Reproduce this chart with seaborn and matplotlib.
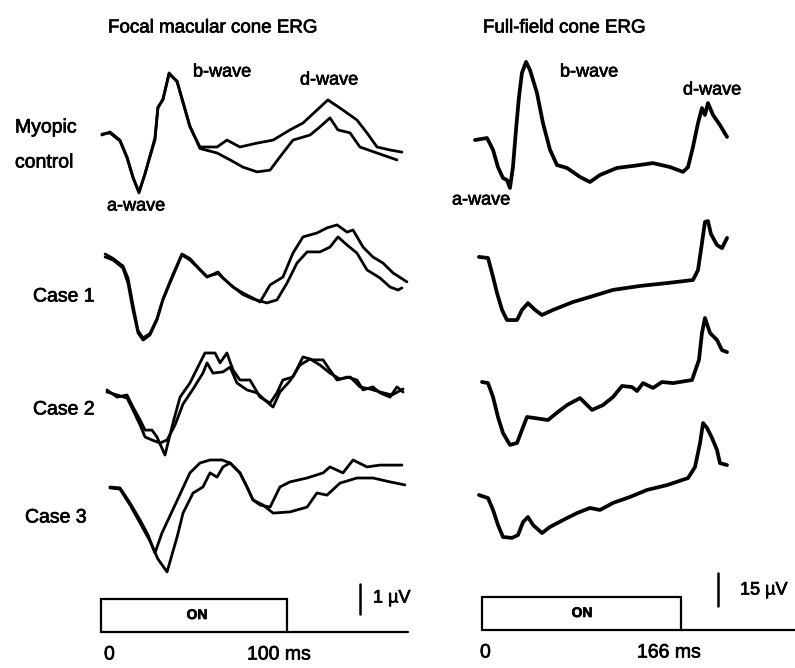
import numpy as np
import pandas as pd
import matplotlib
matplotlib.use("Agg")
import matplotlib.pyplot as plt
import matplotlib.patheffects as pe
import seaborn as sns
from matplotlib.patches import Rectangle

sns.set_theme(style="white")
plt.rcParams['font.family'] = ['Liberation Sans', 'DejaVu Sans']

# ---------------- data (time in ms, amplitude in µV) ----------------
row_labels = ["Myopic\ncontrol", "Case 1", "Case 2", "Case 3"]

# Focal macular cone ERG (two superimposed recordings per row)
foc_ctrl_a_t = [0.5, 4.8, 10.2, 14.0, 17.2, 20.4, 23.7, 26.3, 29.0, 30.6, 33.3, 36.6, 40.9, 44.1, 47.8, 53.2, 62.4, 67.7, 74.7, 83.9, 92.5, 101.6, 108.6, 116.1, 122.0, 130.1, 137.6, 143.0, 148.4, 155.4, 161.8]
foc_ctrl_a_v = [0, 0.1, -0.17, -0.73, -1.4, -1.93, -1.27, -0.73, -0.17, 0.93, 1.17, 2.07, 1.77, 1.07, 0.27, -0.4, -0.4, -0.17, -0.4, -0.27, -0.17, 0.17, 0.4, 0.83, 1.17, 0.83, 0.5, 0.07, -0.4, -0.5, -0.57]
foc_ctrl_b_t = [0.5, 4.8, 10.2, 14.0, 17.2, 20.4, 23.7, 26.3, 29.0, 30.6, 33.3, 36.6, 40.9, 44.1, 47.8, 53.2, 62.4, 69.4, 76.3, 83.9, 90.9, 96.2, 103.2, 112.4, 117.7, 123.1, 127.4, 133.9, 139.2, 148.4, 159.1]
foc_ctrl_b_v = [0.03, 0.07, -0.2, -0.77, -1.43, -1.9, -1.3, -0.7, -0.1, 0.9, 1.2, 2.03, 1.8, 1.1, 0.3, -0.45, -0.6, -0.83, -1.07, -1.23, -1.17, -0.73, -0.17, 0, 0.27, 0.57, 0.17, 0.07, -0.4, -0.6, -0.83]

foc_c1_a_t = [2.2, 6.5, 11.8, 14.5, 17.2, 19.9, 22.6, 26.3, 30.1, 33.3, 38.2, 43.5, 47.8, 52.2, 57.0, 62.9, 65.6, 71.0, 76.3, 81.7, 85.5, 90.9, 97.8, 103.2, 108.6, 116.1, 121.5, 126.9, 132.3, 135.5, 140.9, 146.2, 151.6, 157.0, 164.5]
foc_c1_a_v = [0.1, 0, -0.27, -0.77, -1.67, -2.43, -2.67, -2.5, -2.0, -1.33, -0.6, 0.17, 0, -0.27, -0.57, -0.4, -0.6, -0.9, -1.1, -1.27, -1.4, -0.83, -0.57, 0.23, 0.77, 0.9, 1.07, 1.17, 0.93, 1.0, 0.43, 0.1, -0.1, -0.43, -0.73]
foc_c1_b_t = [2.2, 6.5, 11.8, 14.5, 17.2, 19.9, 22.6, 26.3, 30.1, 33.3, 38.2, 43.5, 47.8, 52.2, 57.0, 62.9, 65.6, 71.0, 76.3, 81.7, 89.2, 94.6, 100.0, 105.4, 110.8, 117.7, 123.1, 127.4, 132.3, 137.6, 143.0, 150.0, 155.4, 159.7, 161.8]
foc_c1_b_v = [0.2, 0.05, -0.2, -0.6, -1.5, -2.35, -2.6, -2.45, -1.95, -1.3, -0.55, 0.2, 0.05, -0.25, -0.55, -0.45, -0.6, -0.9, -1.15, -1.3, -1.43, -1.33, -0.77, -0.1, 0.27, 0.27, 0.43, 0.77, 0.5, 0.23, -0.33, -0.6, -0.9, -1.0, -0.93]

foc_c2_a_t = [3.2, 8.6, 14.0, 17.2, 21.0, 23.7, 27.4, 30.1, 34.4, 38.7, 42.5, 47.8, 53.2, 55.9, 61.3, 64.0, 67.7, 71.0, 74.7, 80.1, 85.5, 90.9, 94.6, 97.8, 103.2, 108.6, 114.0, 119.4, 123.1, 126.9, 132.3, 137.6, 140.9, 146.2, 150.0, 155.4, 159.1, 162.4]
foc_c2_a_v = [0.07, -0.17, -0.1, -0.5, -0.93, -1.27, -1.27, -1.5, -2.1, -1.03, -0.17, 0.3, 0.97, 1.3, 1.3, 0.97, 1.3, 0.73, 0.4, 0.4, -0.17, -0.37, -0.03, 0.4, 0.5, 1.17, 1.07, 1.07, 0.73, 0.4, 0.5, 0.4, 0.07, 0.17, -0.03, -0.17, 0.17, 0]
foc_c2_b_t = [3.2, 8.6, 14.0, 17.2, 21.0, 23.7, 27.4, 31.7, 35.5, 39.8, 44.1, 49.5, 54.8, 57.0, 60.2, 65.6, 69.4, 73.1, 78.5, 83.9, 89.2, 92.5, 96.2, 101.6, 107.0, 112.4, 117.7, 123.1, 128.5, 134.0, 139.2, 144.6, 150.0, 156.5, 162.4]
foc_c2_b_v = [0.0, -0.1, -0.2, -0.6, -1.1, -1.5, -1.6, -1.7, -1.6, -1.1, -0.4, 0.1, 0.63, 0.97, 0.63, 0.67, 0.83, 0.3, 0.07, -0.03, -0.33, -0.5, 0.0, 0.37, 0.9, 1.1, 0.9, 0.63, 0.43, 0.5, 0.17, 0.1, 0.0, -0.1, 0.1]

foc_c3_a_t = [4.8, 10.2, 15.6, 21.0, 25.3, 29.0, 32.8, 39.8, 47.8, 53.2, 58.6, 65.1, 69.4, 74.7, 78.5, 81.7, 85.5, 90.9, 96.2, 101.6, 110.8, 119.4, 123.1, 130.1, 135.5, 143.0, 150.0, 161.8]
foc_c3_a_v = [0, -0.03, -0.53, -1.1, -1.6, -2.2, -1.53, -0.6, 0.47, 0.8, 0.9, 0.9, 0.8, 0.47, 0, -0.43, -0.6, -0.67, 0, 0.17, 0.3, 0.47, 0.67, 0.47, 0.9, 0.67, 0.73, 0.73]
foc_c3_b_t = [4.8, 10.2, 15.6, 21.0, 26.3, 30.6, 35.5, 40.9, 44.1, 49.5, 54.8, 58.6, 62.4, 65.6, 69.4, 74.7, 78.5, 81.7, 87.1, 92.5, 101.6, 110.8, 116.1, 121.5, 128.5, 137.6, 146.2, 155.4, 163.4]
foc_c3_b_v = [-0.03, -0.07, -0.6, -1.2, -1.8, -2.4, -2.83, -1.67, -0.87, -0.2, 0, 0.47, 0.33, 0.67, 0.8, 0.47, 0, -0.43, -0.6, -0.87, -0.83, -0.67, -0.2, -0.27, 0.13, 0.3, 0.3, 0.17, 0.07]

# Full-field cone ERG (one trace per row)
ff_ctrl_t = [-5.8, 4.2, 9.2, 13.3, 17.5, 20.8, 23.3, 25.8, 28.3, 30.8, 33.3, 36.7, 40.0, 45.8, 50.8, 56.7, 62.5, 70.8, 81.7, 90.0, 98.3, 112.5, 125.8, 142.5, 156.7, 167.5, 171.7, 175.8, 180.0, 183.3, 185.8, 188.3, 192.5, 198.3, 204.2]
ff_ctrl_v = [0, 0.9, -4.5, -12.3, -17.3, -18.2, -21.8, -12.3, 4.5, 19.5, 30.5, 35.5, 31.8, 21.4, 7.7, -4.5, -11.4, -12.7, -16.8, -19.1, -15.9, -12.7, -11.8, -10.5, -12.3, -14.5, -12.3, -3.2, 7.7, 14.5, 11.4, 16.8, 11.4, 6.8, 1.4]
ff_c1_t = [-2.5, 5.0, 9.2, 12.5, 16.7, 20.8, 29.2, 33.3, 38.3, 44.2, 50.0, 59.2, 75.8, 90.0, 109.2, 131.7, 154.2, 175.8, 180.0, 183.3, 185.8, 188.3, 190.8, 195.8, 200.0, 204.2]
ff_c1_v = [0.5, 0, -8.6, -15.9, -23.6, -28.2, -28.2, -23.6, -20.5, -23.6, -25.9, -23.6, -20.0, -17.7, -14.5, -12.7, -11.4, -10.0, -5.5, 6.8, 16.4, 16.8, 10.9, 5.9, 4.5, 9.1]
ff_c2_t = [0, 5.0, 9.2, 13.3, 17.5, 23.3, 29.2, 33.3, 37.5, 44.2, 55.0, 63.3, 70.8, 81.7, 91.7, 100.8, 109.2, 116.7, 125.0, 129.2, 134.2, 142.5, 150.0, 159.2, 175.0, 180.8, 183.3, 185.8, 190.0, 195.8, 200.0, 204.2]
ff_c2_v = [0, -0.5, -6.8, -15.9, -23.2, -28.6, -27.7, -21.8, -15.9, -16.4, -17.3, -13.6, -10.5, -7.3, -12.7, -10.5, -6.8, -1.8, -2.3, -4.1, -0.5, -2.7, 0, -0.5, 0.9, 10.0, 22.3, 29.1, 22.3, 19.1, 14.5, 13.6]
ff_c3_t = [-2.5, 5.0, 9.2, 13.3, 17.5, 25.0, 30.0, 34.2, 38.3, 42.5, 50.0, 56.7, 67.5, 79.2, 90.0, 98.3, 109.2, 123.3, 137.5, 154.2, 171.7, 177.5, 181.7, 184.2, 187.5, 191.7, 195.8, 198.3, 204.2]
ff_c3_v = [0, -1.4, -6.8, -13.6, -19.1, -19.5, -18.2, -12.3, -10.0, -13.6, -17.3, -14.5, -11.4, -8.2, -5.9, -6.8, -3.6, -0.9, 2.3, 4.5, 7.7, 12.7, 23.6, 32.7, 30.5, 25.9, 20.5, 14.5, 13.6]

focal_on_ms = 100
full_on_ms = 166
focal_scale_uv = 1
full_scale_uv = 15

# ---------------- layout ----------------
W, H = 795, 668
fig = plt.figure(figsize=(W / 100, H / 100), dpi=100)
fig.patch.set_facecolor("white")

# pixel geometry of the scanned figure
L_X0, L_PXMS, L_PXUV = 101, 1.86, 30.0   # focal: 0 ms pixel, px per ms, px per µV
R_X0, R_PXMS, R_PXUV = 482, 1.2, 2.2     # full-field
SPLIT = 440

axL = fig.add_axes([0, 0, SPLIT / W, 1])
axR = fig.add_axes([SPLIT / W, 0, 1 - SPLIT / W, 1])

left_base_px = [135, 260, 392, 487]
right_base_px = [140, 258, 382, 495]

focal_sets = [
    [(foc_ctrl_a_t, foc_ctrl_a_v), (foc_ctrl_b_t, foc_ctrl_b_v)],
    [(foc_c1_a_t, foc_c1_a_v), (foc_c1_b_t, foc_c1_b_v)],
    [(foc_c2_a_t, foc_c2_a_v), (foc_c2_b_t, foc_c2_b_v)],
    [(foc_c3_a_t, foc_c3_a_v), (foc_c3_b_t, foc_c3_b_v)],
]
full_sets = [(ff_ctrl_t, ff_ctrl_v), (ff_c1_t, ff_c1_v), (ff_c2_t, ff_c2_v), (ff_c3_t, ff_c3_v)]

for r, pair in enumerate(focal_sets):
    off = -left_base_px[r] / L_PXUV
    for k, (t, v) in enumerate(pair):
        df = pd.DataFrame({"t": t, "v": np.array(v) + off})
        sns.lineplot(data=df, x="t", y="v", ax=axL, sort=False, estimator=None,
                     color="black", lw=2.0, solid_joinstyle="round")

for r, (t, v) in enumerate(full_sets):
    off = -right_base_px[r] / R_PXUV
    df = pd.DataFrame({"t": t, "v": np.array(v) + off})
    sns.lineplot(data=df, x="t", y="v", ax=axR, sort=False, estimator=None,
                 color="black", lw=2.7, solid_joinstyle="round")

axL.set_xlim((0 - L_X0) / L_PXMS, (SPLIT - L_X0) / L_PXMS)
axL.set_ylim(-H / L_PXUV, 0)
axR.set_xlim((SPLIT - R_X0) / R_PXMS, (W - R_X0) / R_PXMS)
axR.set_ylim(-H / R_PXUV, 0)
for a in (axL, axR):
    a.set_xlabel("")
    a.set_ylabel("")
    a.set_axis_off()

# stimulus bars and scale bars
def stim(ax, on_ms, x0, pxms, pxuv, top_px, bot_px, end_px, bar_x_px, bar_bot_px, bar_uv):
    ax.add_patch(Rectangle((0, -bot_px / pxuv), on_ms, (bot_px - top_px) / pxuv,
                           fill=False, ec="black", lw=1.6))
    ax.plot([on_ms, (end_px - x0) / pxms], [-bot_px / pxuv] * 2, color="black", lw=1.6)
    bx = (bar_x_px - x0) / pxms
    ax.plot([bx, bx], [-bar_bot_px / pxuv, -bar_bot_px / pxuv + bar_uv], color="black", lw=1.8)

stim(axL, focal_on_ms, L_X0, L_PXMS, L_PXUV, 599, 632, 408, 360, 614, focal_scale_uv)
stim(axR, full_on_ms, R_X0, R_PXMS, R_PXUV, 597, 630, 795, 718, 606, full_scale_uv)

stroke = [pe.withStroke(linewidth=0.5, foreground="black")]

def ptext(x, y, s, size=13, ha="left", weight="normal"):
    fig.text(x / W, 1 - y / H, s, fontsize=size, ha=ha, va="center", weight=weight,
             color="black", path_effects=stroke)

ptext(108, 28, "Focal macular cone ERG", 13.5)
ptext(483, 28, "Full-field cone ERG", 13.5)
ptext(15, 128, "Myopic", 14)
ptext(15, 163, "control", 14)
ptext(33, 297, row_labels[1], 14)
ptext(33, 410, row_labels[2], 14)
ptext(25, 518, row_labels[3], 14)

ptext(193, 72, "b-wave", 13)
ptext(300, 80, "d-wave", 13)
ptext(107, 206, "a-wave", 13)
ptext(560, 72, "b-wave", 13)
ptext(452, 200, "a-wave", 13)
ptext(683, 90, "d-wave", 13)

ptext(197, 615, "ON", 10, ha="center", weight="bold")
ptext(582, 613, "ON", 10, ha="center", weight="bold")
ptext(104, 655, "0", 14)
ptext(247, 655, f"{focal_on_ms} ms", 14)
ptext(480, 653, "0", 14)
ptext(637, 653, f"{full_on_ms} ms", 14)
ptext(373, 598, f"{focal_scale_uv} µV", 13)
ptext(740, 590, f"{full_scale_uv} µV", 13)

fig.savefig("out.png", dpi=100, facecolor="white")
